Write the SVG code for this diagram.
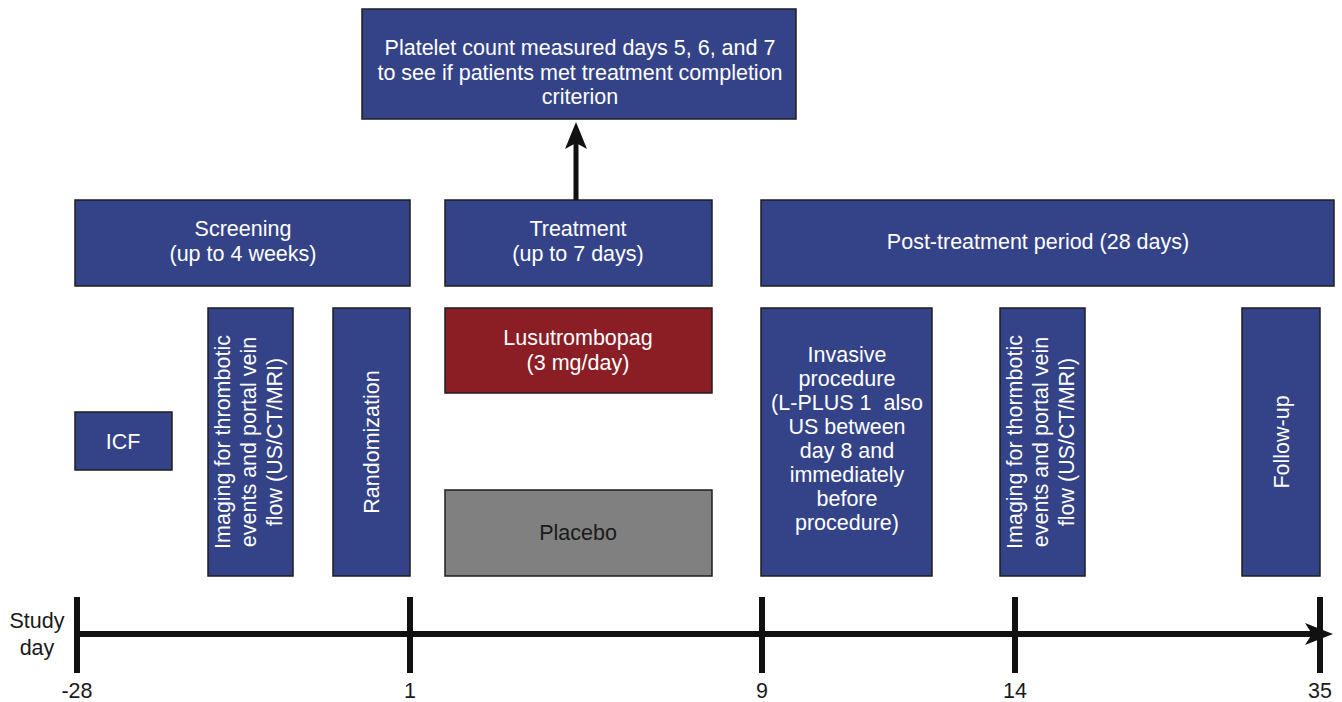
<svg xmlns="http://www.w3.org/2000/svg" width="1342" height="702" viewBox="0 0 1342 702">
<style>
.b{fill:#344388;stroke:#1e1e1e;stroke-width:1.5}
.r{fill:#8b1e24;stroke:#1e1e1e;stroke-width:1.5}
.g{fill:#808080;stroke:#1e1e1e;stroke-width:1.5}
text{font-family:"Liberation Sans",Arial,sans-serif;font-size:21.5px;text-anchor:middle}
.w{fill:#ffffff}
.k{fill:#1a1a1a}
.ax{stroke:#111;stroke-width:6;fill:none}
.head{fill:#111;stroke:none}
</style>
<g id="platelet">
<rect class="b" x="362" y="9" width="434" height="110"/>
<text class="w" x="580" y="55">Platelet count measured days 5, 6, and 7</text>
<text class="w" x="580" y="80">to see if patients met treatment completion</text>
<text class="w" x="580" y="104">criterion</text>
</g>
<g id="screening">
<rect class="b" x="75" y="200" width="335" height="86"/>
<text class="w" x="243" y="236">Screening</text>
<text class="w" x="243" y="261">(up to 4 weeks)</text>
</g>
<g id="treatment">
<rect class="b" x="445" y="200" width="267" height="86"/>
<text class="w" x="578" y="236">Treatment</text>
<text class="w" x="578" y="261">(up to 7 days)</text>
</g>
<g id="post">
<rect class="b" x="761" y="200" width="573" height="86"/>
<text class="w" x="1038" y="249">Post-treatment period (28 days)</text>
</g>
<g id="icf">
<rect class="b" x="75" y="412" width="97" height="58"/>
<text class="w" x="123" y="449">ICF</text>
</g>
<g id="imaging1">
<rect class="b" x="208" y="308" width="85" height="268"/>
<g transform="translate(250,442) rotate(-90)">
<text class="w" x="0" y="-20">Imaging for thrombotic</text>
<text class="w" x="0" y="6">events and portal vein</text>
<text class="w" x="0" y="32">flow (US/CT/MRI)</text>
</g>
</g>
<g id="randomization">
<rect class="b" x="333" y="308" width="77" height="268"/>
<text class="w" transform="translate(372,442) rotate(-90)" x="0" y="7">Randomization</text>
</g>
<g id="lusutrombopag">
<rect class="r" x="445" y="308" width="267" height="85"/>
<text class="w" x="578" y="345">Lusutrombopag</text>
<text class="w" x="578" y="370">(3 mg/day)</text>
</g>
<g id="placebo">
<rect class="g" x="445" y="490" width="267" height="86"/>
<text class="k" x="578" y="540">Placebo</text>
</g>
<g id="invasive">
<rect class="b" x="761" y="308" width="171" height="268"/>
<text class="w" x="847" y="362">Invasive</text>
<text class="w" x="847" y="386">procedure</text>
<text class="w" x="847" y="410" xml:space="preserve">(L-PLUS 1  also</text>
<text class="w" x="847" y="434">US between</text>
<text class="w" x="847" y="458">day 8 and</text>
<text class="w" x="847" y="482">immediately</text>
<text class="w" x="847" y="506">before</text>
<text class="w" x="847" y="530">procedure)</text>
</g>
<g id="imaging2">
<rect class="b" x="1000" y="308" width="85" height="268"/>
<g transform="translate(1042,442) rotate(-90)">
<text class="w" x="0" y="-20">Imaging for thormbotic</text>
<text class="w" x="0" y="6">events and portal vein</text>
<text class="w" x="0" y="32">flow (US/CT/MRI)</text>
</g>
</g>
<g id="followup">
<rect class="b" x="1242" y="308" width="78" height="268"/>
<text class="w" transform="translate(1282,442) rotate(-90)" x="0" y="7">Follow-up</text>
</g>
<g id="connectors">
<line x1="576" y1="200" x2="576" y2="140" stroke="#111" stroke-width="5"/>
<path class="head" d="M576,122 L587,149 L576,143 L565,149 Z"/>
<line class="ax" x1="75" y1="634" x2="1315" y2="634"/>
<path class="head" d="M1333,634 L1305,623 L1312,634 L1305,645 Z"/>
<line class="ax" x1="77" y1="597" x2="77" y2="673"/>
<line class="ax" x1="410" y1="597" x2="410" y2="673"/>
<line class="ax" x1="762" y1="597" x2="762" y2="673"/>
<line class="ax" x1="1015" y1="597" x2="1015" y2="673"/>
<line class="ax" x1="1320" y1="597" x2="1320" y2="673"/>
</g>
<g id="axis-labels">
<text class="k" x="37" y="628">Study</text>
<text class="k" x="37" y="655">day</text>
<text class="k" x="77" y="698">-28</text>
<text class="k" x="410" y="698">1</text>
<text class="k" x="762" y="698">9</text>
<text class="k" x="1015" y="698">14</text>
<text class="k" x="1320" y="698">35</text>
</g>
</svg>
